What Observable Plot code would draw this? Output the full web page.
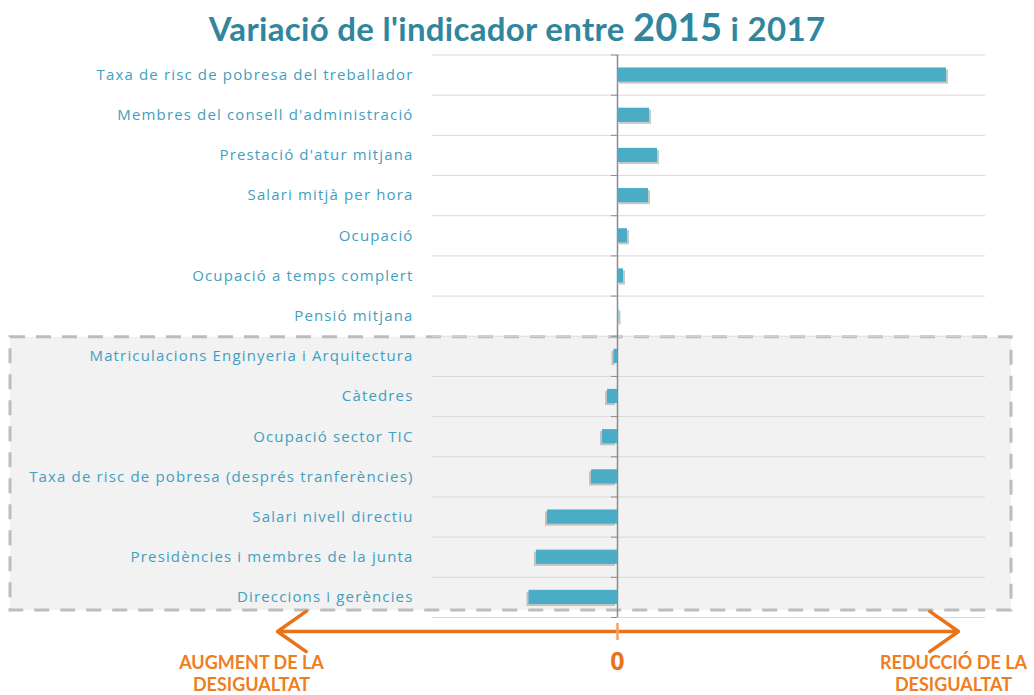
<!DOCTYPE html>
<html>
<head>
<meta charset="utf-8">
<script src="https://cdn.jsdelivr.net/npm/d3@7"></script>
<script src="https://cdn.jsdelivr.net/npm/@observablehq/plot@0.6"></script>
<style>
  html, body { margin: 0; padding: 0; background: #ffffff; }
  #wrap { width: 1034px; height: 695px; position: relative; overflow: hidden; }
  #title {
    height: 50px; line-height: 52px; text-align: center;
    font-family: Lato, "Open Sans", sans-serif; font-weight: bold;
    color: #31869e; font-size: 33px; letter-spacing: 0.3px;
    padding-left: 0px; white-space: nowrap;
  }
  #title .big { font-size: 38px; }
  #chart svg { display: block; overflow: visible; }
</style>
</head>
<body>
<div id="wrap">
  <div id="title">Variació de l'indicador entre <span class="big">2015</span> i 2017</div>
  <div id="chart"></div>
</div>
<script>
// ---- data ----
const categories = [
  "Taxa de risc de pobresa del treballador",
  "Membres del consell d'administració",
  "Prestació d'atur mitjana",
  "Salari mitjà per hora",
  "Ocupació",
  "Ocupació a temps complert",
  "Pensió mitjana",
  "Matriculacions Enginyeria i Arquitectura",
  "Càtedres",
  "Ocupació sector TIC",
  "Taxa de risc de pobresa (després tranferències)",
  "Salari nivell directiu",
  "Presidències i membres de la junta",
  "Direccions i gerències"
];
const values = [32.9, 3.2, 4.0, 3.1, 1.0, 0.6, 0.15, -0.35, -1.0, -1.5, -2.6, -7.0, -8.1, -8.85];
const highlightFrom = "Matriculacions Enginyeria i Arquitectura";
const xDomain = [-18.5, 36.8];
const arrowEnds = [-34, 34.1];
const sideLabels = ["AUGMENT DE LA\nDESIGUALTAT", "REDUCCIÓ DE LA\nDESIGUALTAT"];
const sideLabelX = [-36.6, 33.6];
const zeroLabel = ["0"];

// ---- derived tables ----
const data = categories.map((name, i) => ({name, i, value: values[i]}));
const n = categories.length;
const bounds = d3.range(n + 1);
const hi = categories.indexOf(highlightFrom);
const box = [{y1: hi, y2: n}];
const arrows = arrowEnds.map(e => ({x1: 0, x2: e}));
const sides = sideLabels.map((t, k) => ({text: t, x: sideLabelX[k]}));

const barColor = "#4bacc6";
const labelColor = "#3f9fc1";
const orange = "#e8731a";

const chart = Plot.plot({
  width: 1034,
  height: 645,
  marginTop: 4.5,
  marginBottom: 78,
  marginLeft: 432,
  marginRight: 49,
  x: {domain: xDomain, axis: null},
  y: {domain: [0, n], reverse: true, axis: null},
  style: {fontFamily: "'Open Sans', sans-serif", background: "transparent"},
  marks: [
    // highlighted group box
    Plot.rect(box, {
      x1: () => xDomain[0], x2: () => xDomain[1], y1: "y1", y2: "y2",
      insetLeft: -422, insetRight: -26, insetTop: 1, insetBottom: 7,
      fill: "#f2f2f2", stroke: "#bdbdbd", strokeWidth: 3, strokeDasharray: "15,11"
    }),
    // gridlines
    Plot.ruleY(bounds, {stroke: "#d9d9d9", strokeWidth: 1}),
    // zero axis
    Plot.ruleX([0], {stroke: "#8c8c8c", strokeWidth: 1.5}),
    Plot.ruleY(bounds, {x1: () => 0, x2: () => 0, insetLeft: -6, stroke: "#8c8c8c", strokeWidth: 1}),
    // shadows
    Plot.rectX(data.filter(d => d.value >= 0), {
      x1: () => 0, x2: "value", y1: "i", y2: d => d.i + 1,
      insetTop: 13, insetBottom: 13, dx: 2, dy: 2, fill: "#9a9a9a", fillOpacity: 0.55
    }),
    Plot.rectX(data.filter(d => d.value < 0), {
      x1: () => 0, x2: "value", y1: "i", y2: d => d.i + 1,
      insetTop: 13, insetBottom: 13, dx: -2, dy: 2, fill: "#9a9a9a", fillOpacity: 0.55
    }),
    // bars
    Plot.rectX(data, {
      x1: () => 0, x2: "value", y1: "i", y2: d => d.i + 1,
      insetTop: 13, insetBottom: 13, fill: barColor
    }),
    // category labels
    Plot.text(data, {
      frameAnchor: "left", y: d => d.i + 0.5, text: "name",
      textAnchor: "end", dx: -19, fill: labelColor, fontSize: 15
    }),
    // bottom double arrow
    Plot.arrow(arrows, {
      x1: "x1", x2: "x2", y1: () => n, y2: () => n, dy: 14,
      stroke: orange, strokeWidth: 3.5, headLength: 15, headAngle: 70
    }),
    Plot.ruleX([0], {y1: () => n, y2: () => n, dy: 14, insetTop: -8, insetBottom: -9, stroke: "#f4a060", strokeWidth: 2.5}),
    Plot.text(zeroLabel, {
      x: () => 0, y: () => n, dy: 44, text: d => d,
      fill: orange, fontSize: 25, fontWeight: "bold"
    }),
    Plot.text(sides, {
      x: "x", y: () => n, dy: 55, text: "text", lineHeight: 1.22,
      fill: "#ef7d22", fontSize: 18, fontWeight: "bold", fontFamily: "Lato, 'Open Sans', sans-serif"
    })
  ]
});
// widen the category labels' letter spacing, as in the reference
d3.select(chart).selectAll("text")
  .filter(function() { return categories.includes(this.textContent); })
  .style("letter-spacing", "1.15px");
document.getElementById("chart").appendChild(chart);
</script>
</body>
</html>
